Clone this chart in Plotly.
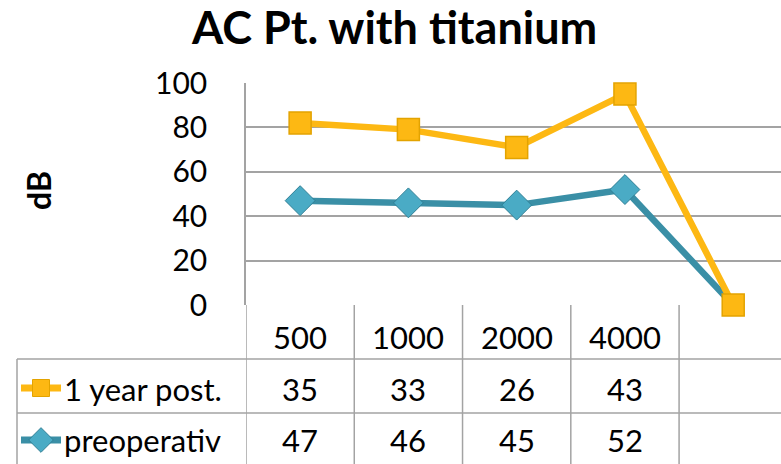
import plotly.graph_objects as go

W, H = 781, 464
categories = ["500", "1000", "2000", "4000", ""]
post_1year = [35, 33, 26, 43, None]
preoperativ = [47, 46, 45, 52, None]
series_names = ["1 year post.", "preoperativ"]
y_ticks = [0, 20, 40, 60, 80, 100]

ORANGE = "#FDB813"
ORANGE_DK = "#E3A300"
TEAL = "#3A8FA6"
TEAL_MK = "#4AABC5"
GRID = "#A3A3A3"
FONT = "Lato"

xs = list(range(len(categories)))
pre_plot = [v if v is not None else 0 for v in preoperativ]
post_plot = [(a if a is not None else 0) + b for a, b in zip(post_1year, pre_plot)]
# the teal marker for the blank category sits hidden under the orange one
teal_sizes = [23 if v is not None else 0 for v in preoperativ]

def py(px):
    return 1 - px / H

fig = go.Figure()
fig.add_trace(go.Scatter(x=xs, y=pre_plot, mode="lines+markers", name=series_names[1],
                         cliponaxis=False,
                         line=dict(color=TEAL, width=6.5),
                         marker=dict(symbol="diamond", size=teal_sizes, color=TEAL_MK, opacity=1,
                                     line=dict(color="#2F7F95", width=1))))
fig.add_trace(go.Scatter(x=xs, y=post_plot, mode="lines+markers", name=series_names[0],
                         cliponaxis=False,
                         line=dict(color=ORANGE, width=6.5),
                         marker=dict(symbol="square", size=22, color=ORANGE, opacity=1,
                                     line=dict(color=ORANGE_DK, width=1.5))))

# legend keys in the data table (decorative overlay axis in pixel units)
key_rows = [(388, ORANGE, "square", 17, ORANGE_DK), (440, TEAL, "diamond", 19, "#2F7F95")]
for (yc, col, sym, sz, lc) in key_rows:
    fig.add_trace(go.Scatter(x=[21, 61], y=[yc, yc], mode="lines", xaxis="x2", yaxis="y2",
                             line=dict(color=col, width=7), showlegend=False, hoverinfo="skip"))
    fig.add_trace(go.Scatter(x=[41], y=[yc], mode="markers", xaxis="x2", yaxis="y2",
                             marker=dict(symbol=sym, size=sz, color=col if sym == "square" else TEAL_MK,
                                         line=dict(color=lc, width=1)),
                             showlegend=False, hoverinfo="skip"))

shapes = []
line_style = dict(color=GRID, width=1.5)
y_axis0 = py(305)
for i in range(len(categories)):
    shapes.append(dict(type="line", xref="x", yref="paper", x0=i - 0.5, x1=i - 0.5,
                       y0=0, y1=y_axis0, line=line_style, layer="below"))
for ypx in (359, 413):
    shapes.append(dict(type="line", xref="paper", yref="paper", x0=17 / W, x1=1,
                       y0=py(ypx), y1=py(ypx), line=line_style))
shapes.append(dict(type="line", xref="paper", yref="paper", x0=17 / W, x1=17 / W,
                   y0=0, y1=py(359), line=line_style))

annotations = []
tfont = dict(family=FONT, size=31, color="black")
C = dict(xanchor="center", yanchor="middle", showarrow=False)
for i, c in enumerate(categories):
    if c:
        annotations.append(dict(x=i, y=py(337), xref="x", yref="paper", text=c,
                                font=tfont, **C))
for rowy, vals in ((389, post_1year), (440, preoperativ)):
    for i, v in enumerate(vals):
        if v is not None:
            annotations.append(dict(x=i, y=py(rowy), xref="x", yref="paper", text=str(v),
                                    font=tfont, **C))
for rowy, name in ((389, series_names[0]), (440, series_names[1])):
    annotations.append(dict(x=62 / W, y=py(rowy), xref="paper", yref="paper", text=name,
                            xanchor="left", yanchor="middle", showarrow=False, font=tfont))
annotations.append(dict(x=38 / W, y=py(191), xref="paper", yref="paper", text="<b>dB</b>",
                        textangle=-90, font=dict(family=FONT, size=32, color="black"), **C))
annotations.append(dict(x=394 / W, y=py(27), xref="paper", yref="paper",
                        text="<b>AC Pt. with titanium</b>",
                        font=dict(family=FONT, size=45, color="black"), **C))

fig.update_layout(
    template="none",
    width=W, height=H, margin=dict(l=0, r=0, t=0, b=0, pad=0, autoexpand=False),
    paper_bgcolor="white", plot_bgcolor="rgba(0,0,0,0)", showlegend=False,
    xaxis=dict(domain=[246 / W, 1], range=[-0.5, (781 - 300) / 108.3], showgrid=False,
               zeroline=False, showticklabels=False, showline=False, ticks="",
               automargin=False, fixedrange=True),
    yaxis=dict(domain=[py(305), py(83)], range=[0, 100], tickvals=y_ticks,
               showgrid=True, gridcolor=GRID, gridwidth=1.5, zeroline=False,
               showline=True, linecolor=GRID, linewidth=1.5, ticks="",
               ticklabelstandoff=31, automargin=False,
               tickfont=dict(family=FONT, size=30, color="black")),
    xaxis2=dict(domain=[0, 1], range=[0, W], visible=False, anchor="y2", automargin=False),
    yaxis2=dict(domain=[0, 1], range=[H, 0], visible=False, anchor="x2", automargin=False),
    shapes=shapes, annotations=annotations,
)
fig.write_html("out.html", config={"displayModeBar": False},
               post_script="document.body.style.margin='0';document.body.style.overflow='hidden';")
